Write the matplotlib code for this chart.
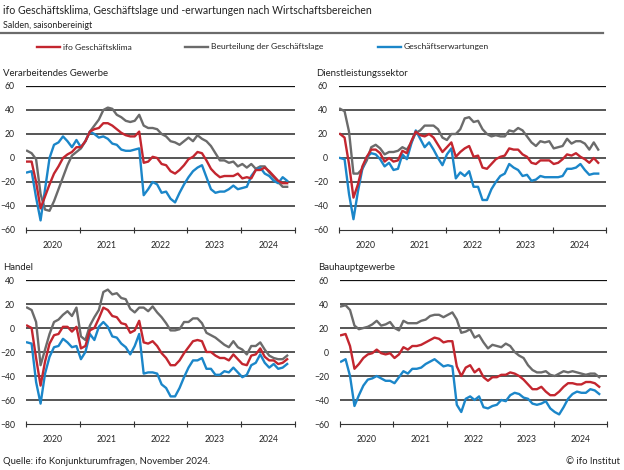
import matplotlib
matplotlib.use('Agg')
import matplotlib.pyplot as plt
import numpy as np

plt.rcParams['font.family'] = ['Lato', 'DejaVu Sans']

# monthly values Jan 2020 .. Nov 2024 (59 months)
vg_klima = [-3, -3, -20, -42, -32, -22, -13, -7, 0, 3, 5, 9,
            9, 14, 22, 24, 25, 29, 29, 27, 24, 21, 19, 18,
            18, 22, -4, -3, 1, 0, -5, -6, -11, -13, -10, -6,
            -1, 1, 5, 4, -2, -9, -13, -16, -15, -15, -15, -13,
            -17, -16, -17, -10, -10, -8, -11, -15, -19, -21, -21]
vg_lage = [6, 4, -1, -30, -43, -44, -36, -26, -16, -6, 2, 5,
           8, 14, 22, 27, 32, 40, 42, 41, 36, 34, 31, 30,
           31, 36, 27, 25, 25, 24, 20, 18, 14, 13, 11, 14,
           17, 14, 19, 16, 14, 10, 4, -2, -2, -4, -3, -7,
           -5, -8, -5, -9, -7, -7, -12, -16, -20, -24, -24]
vg_erw = [-12, -11, -33, -52, -26, 0, 11, 13, 18, 14, 9, 15,
          9, 14, 22, 20, 17, 18, 16, 12, 11, 7, 6, 6,
          7, 8, -31, -26, -20, -22, -29, -28, -34, -37, -29, -22,
          -16, -11, -8, -6, -16, -26, -29, -28, -28, -26, -23, -26,
          -25, -24, -15, -10, -8, -13, -15, -19, -21, -16, -19]

dl_klima = [20, 17, -5, -33, -22, -7, 1, 7, 7, 4, -3, 0,
            -3, -2, 6, 4, 14, 22, 19, 18, 20, 17, 11, 5,
            9, 13, 1, 5, 8, 10, 1, 2, -8, -9, -5, -1,
            1, 2, 8, 7, 7, 3, 1, -4, -5, -2, -2, -2,
            -5, -4, -1, 3, 2, 4, 1, -1, -4, 0, -4]
dl_lage = [41, 39, 22, -13, -13, -9, -2, 9, 11, 8, 3, 5,
           5, 6, 9, 7, 13, 21, 23, 27, 27, 27, 24, 17,
           15, 20, 20, 24, 33, 34, 30, 31, 24, 20, 18, 19,
           18, 18, 23, 22, 25, 23, 18, 13, 10, 14, 13, 14,
           8, 9, 10, 16, 12, 14, 14, 12, 7, 13, 7]
dl_erw = [0, -1, -30, -51, -28, -9, 1, 4, 3, -1, -7, -4,
          -10, -9, 3, -1, 12, 23, 16, 9, 13, 7, 0, -6,
          3, 8, -17, -12, -15, -11, -24, -24, -35, -35, -26, -20,
          -15, -13, -5, -8, -10, -15, -14, -19, -18, -15, -16, -16,
          -16, -16, -15, -9, -9, -8, -5, -10, -14, -13, -13]

ha_klima = [2, 0, -25, -48, -28, -13, -6, -5, 1, 1, -3, 1,
            -17, -15, -2, 0, 8, 17, 15, 10, 9, 4, 3, -4,
            -2, 6, -12, -13, -11, -15, -21, -25, -31, -31, -27, -21,
            -16, -11, -10, -11, -20, -20, -23, -25, -25, -27, -22, -26,
            -30, -31, -23, -22, -17, -24, -27, -27, -30, -29, -26]
ha_lage = [17, 15, 5, -31, -18, -5, 5, 7, 11, 14, 10, 17,
           -7, -10, 2, 9, 15, 30, 32, 28, 29, 25, 24, 16,
           13, 17, 17, 14, 18, 13, 9, 4, -2, -2, -1, 5,
           5, 8, 8, 4, -4, -6, -8, -11, -14, -16, -11, -16,
           -18, -22, -15, -15, -12, -18, -23, -25, -26, -26, -23]
ha_erw = [-12, -13, -45, -63, -38, -24, -16, -15, -9, -12, -16, -15,
          -26, -20, -5, -10, 1, 5, 1, -7, -8, -13, -16, -22,
          -15, -5, -38, -37, -37, -38, -47, -50, -57, -57, -50, -41,
          -33, -27, -27, -25, -34, -34, -39, -39, -36, -37, -33, -37,
          -41, -39, -31, -29, -22, -29, -33, -30, -34, -33, -30]

bau_klima = [14, 15, 5, -14, -10, -5, -2, -1, 2, -1, -2, -1,
             -5, -2, 4, 2, 5, 5, 6, 8, 10, 12, 11, 8,
             9, 9, -12, -20, -13, -11, -17, -14, -21, -24, -21, -21,
             -19, -19, -17, -18, -20, -23, -27, -31, -31, -29, -33, -36,
             -36, -33, -29, -26, -26, -27, -27, -25, -25, -26, -29]
bau_lage = [38, 39, 35, 22, 19, 20, 21, 23, 26, 22, 23, 25,
            20, 18, 26, 24, 24, 24, 26, 27, 30, 31, 31, 29,
            31, 33, 27, 16, 17, 19, 12, 14, 8, 3, 6, 5,
            4, 7, 5, 0, -3, -5, -11, -15, -17, -17, -16, -19,
            -20, -18, -16, -17, -16, -17, -18, -19, -18, -18, -21]
bau_erw = [-8, -6, -20, -45, -36, -28, -23, -22, -20, -22, -24, -24,
           -26, -21, -16, -18, -14, -14, -13, -10, -8, -6, -9, -12,
           -11, -12, -44, -50, -39, -37, -40, -37, -46, -47, -45, -44,
           -40, -41, -36, -34, -35, -38, -39, -43, -44, -43, -41, -47,
           -50, -52, -46, -39, -35, -33, -34, -34, -31, -32, -35]

years = ['2020', '2021', '2022', '2023', '2024']
series_names = ['ifo Geschäftsklima', 'Beurteilung der Geschäftslage', 'Geschäftserwartungen']

RED = '#c3262f'
GREY = '#6b6b6b'
BLUE = '#1b86c9'
TXT = '#222222'

W, H = 624, 470
fig = plt.figure(figsize=(W / 100, H / 100), dpi=100)


def rect(x0, x1, ytop, ybot):
    return [x0 / W, 1 - ybot / H, (x1 - x0) / W, (ybot - ytop) / H]


def panel(r, klima, lage, erw, ymin, ymax):
    ax = fig.add_axes(r)
    x = np.arange(len(klima)) + 0.25
    ax.plot(x, lage, color=GREY, lw=1.7, zorder=3)
    ax.plot(x, erw, color=BLUE, lw=1.7, zorder=4)
    ax.plot(x, klima, color=RED, lw=1.7, zorder=5)
    ax.set_xlim(0, 60)
    ax.set_ylim(ymin, ymax)
    for v in range(ymin + 20, ymax + 1, 20):
        ax.axhline(v, color='#111111' if v == ymax else '#555555',
                   lw=0.9 if v == ymax else 1.4, zorder=1)
    for s in ['top', 'right', 'left']:
        ax.spines[s].set_visible(False)
    ax.spines['bottom'].set_color('#333333')
    ax.spines['bottom'].set_linewidth(0.8)
    ax.set_yticks(range(ymin, ymax + 1, 20))
    ax.tick_params(axis='y', length=0, labelsize=6.2, labelcolor=TXT, pad=8)
    ax.set_xticks(np.arange(0, 61, 12))
    ax.set_xticklabels([])
    ax.set_xticks(np.arange(6, 60, 12), minor=True)
    ax.set_xticklabels(years, minor=True)
    ax.tick_params(axis='x', which='major', length=4, width=0.8, color='#333333', direction='inout')
    ax.tick_params(axis='x', which='minor', length=0, labelsize=6.2, labelcolor=TXT, pad=8)
    return ax


panel(rect(26, 295, 86, 230), vg_klima, vg_lage, vg_erw, -60, 60)
panel(rect(339, 606, 86, 230), dl_klima, dl_lage, dl_erw, -60, 60)
panel(rect(26, 295, 280, 424), ha_klima, ha_lage, ha_erw, -80, 40)
panel(rect(340, 607, 280, 424), bau_klima, bau_lage, bau_erw, -60, 60)

panel_titles = [(3, 73, 'Verarbeitendes Gewerbe'), (316, 73, 'Dienstleistungssektor'),
                (3, 268, 'Handel'), (318, 268, 'Bauhauptgewerbe')]
for px, py, t in panel_titles:
    fig.text(px / W, 1 - py / H, t, fontsize=6.9, color=TXT, ha='left', va='center')

fig.text(3 / W, 1 - 10 / H, 'ifo Geschäftsklima, Geschäftslage und -erwartungen nach Wirtschaftsbereichen',
         fontsize=7.6, color=TXT, ha='left', va='center')
fig.text(3 / W, 1 - 25 / H, 'Salden, saisonbereinigt', fontsize=6.4, color=TXT, ha='left', va='center')
fig.add_artist(plt.Line2D([0, 603 / W], [1 - 33 / H, 1 - 33 / H], color='#6b6b6b', lw=1.6))

# legend
for (x0, name, c) in zip([37, 185, 378], series_names, [RED, GREY, BLUE]):
    fig.add_artist(plt.Line2D([x0 / W, (x0 + 23) / W], [1 - 47 / H, 1 - 47 / H], color=c, lw=1.7))
    fig.text((x0 + 26) / W, 1 - 47 / H, name, fontsize=6.1, color=TXT, ha='left', va='center')

fig.text(3 / W, 1 - 462 / H, 'Quelle: ifo Konjunkturumfragen, November 2024.', fontsize=6.8,
         color=TXT, ha='left', va='center')
fig.text(620 / W, 1 - 462 / H, '© ifo Institut', fontsize=6.8, color=TXT, ha='right', va='center')

fig.savefig('out.png', dpi=100)
